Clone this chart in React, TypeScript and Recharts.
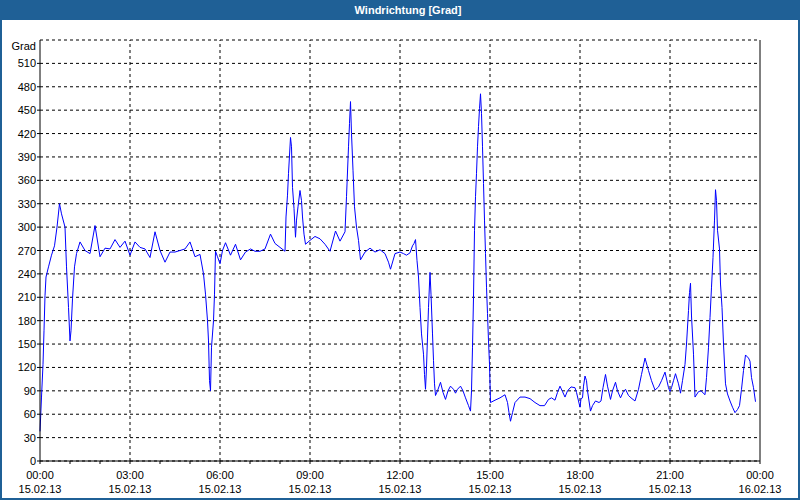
import React from 'react';
import { LineChart, Line, XAxis, YAxis, CartesianGrid, ReferenceLine } from 'recharts';

// minutes since 15.02.13 00:00
const minutes = [
  0, 3, 6, 8, 10, 12, 17, 23, 29, 34, 39, 43, 50, 53, 57, 60, 62, 65, 69, 73, 80, 90, 100, 110, 120, 130, 140, 150,
  160, 170, 180, 190, 200, 210, 220, 230, 240, 250, 260, 270, 280, 290, 300, 310, 320, 327, 331, 335, 337, 339, 341,
  343, 347, 349, 351, 355, 360, 365, 371, 381, 391, 401, 411, 421, 430, 440, 450, 461, 470, 480, 490, 492, 495, 497,
  501, 503, 505, 508, 511, 513, 516, 520, 523, 525, 528, 531, 540, 550, 560, 570, 580, 591, 600, 610, 613, 617, 619,
  621, 623, 626, 629, 633, 637, 641, 650, 660, 670, 680, 690, 697, 701, 710, 720, 727, 733, 740, 745, 748, 751, 754,
  757, 760, 763, 767, 769, 771, 773, 775, 777, 780, 782, 785, 787, 789, 791, 795, 801, 806, 811, 816, 821, 827, 831,
  835, 841, 846, 851, 857, 861, 863, 865, 867, 869, 871, 873, 875, 877, 879, 881, 883, 885, 887, 889, 891, 893, 895,
  897, 899, 901, 910, 920, 930, 935, 938, 941, 945, 950, 960, 970, 980, 990, 1000, 1009, 1017, 1023, 1030, 1035, 1040,
  1045, 1050, 1055, 1062, 1070, 1073, 1077, 1080, 1082, 1085, 1087, 1090, 1093, 1095, 1098, 1101, 1105, 1111, 1118,
  1122, 1126, 1131, 1135, 1141, 1145, 1151, 1155, 1161, 1166, 1171, 1177, 1182, 1190, 1197, 1203, 1210, 1217, 1223,
  1230, 1237, 1243, 1250, 1257, 1260, 1263, 1267, 1271, 1277, 1281, 1285, 1290, 1293, 1297, 1299, 1301, 1303, 1307,
  1310, 1317, 1322, 1330, 1333, 1337, 1340, 1343, 1346, 1349, 1351, 1353, 1355, 1359, 1361, 1364, 1367, 1371, 1375,
  1380, 1385, 1390, 1395, 1399, 1403, 1407, 1411, 1417, 1420, 1423, 1427, 1431,
];

// wind direction in degrees
const degrees = [
  38, 82, 124, 167, 212, 236, 249, 264, 276, 300, 330, 317, 300, 249, 197, 154, 167, 208, 249, 266, 281, 270, 266, 302,
  262, 273, 272, 284, 274, 282, 264, 281, 274, 272, 261, 294, 270, 255, 268, 268, 270, 272, 281, 262, 265, 240, 214,
  180, 154, 103, 90, 146, 180, 214, 269, 262, 253, 270, 280, 264, 278, 258, 268, 272, 269, 269, 272, 291, 279, 274,
  269, 313, 341, 369, 415, 403, 351, 324, 287, 309, 326, 347, 334, 313, 291, 278, 283, 288, 285, 278, 269, 295, 282,
  294, 339, 403, 433, 461, 420, 373, 326, 300, 283, 258, 268, 273, 268, 271, 266, 255, 246, 266, 268, 266, 264, 267,
  276, 279, 284, 257, 236, 197, 163, 137, 111, 92, 120, 159, 197, 242, 214, 163, 129, 99, 84, 90, 101, 88, 79, 90, 96,
  92, 87, 92, 96, 90, 81, 71, 64, 90, 146, 210, 296, 339, 369, 403, 429, 452, 471, 446, 403, 356, 309, 266, 223, 189,
  154, 124, 75, 78, 81, 85, 75, 62, 51, 62, 75, 82, 82, 80, 75, 71, 71, 79, 81, 78, 88, 96, 89, 82, 90, 95, 94, 88,
  77, 69, 80, 81, 96, 109, 103, 90, 77, 64, 71, 77, 75, 77, 94, 111, 96, 79, 90, 101, 90, 81, 88, 92, 84, 81, 77, 92,
  111, 132, 116, 103, 91, 95, 103, 114, 94, 89, 94, 103, 112, 99, 87, 103, 124, 150, 193, 216, 228, 186, 137, 82, 89,
  90, 85, 107, 146, 184, 223, 261, 309, 348, 334, 296, 272, 227, 197, 150, 99, 86, 77, 69, 62, 66, 71, 92, 116, 136,
  132, 128, 107, 94, 76,
];

const gradTicks = [0, 30, 60, 90, 120, 150, 180, 210, 240, 270, 300, 330, 360, 390, 420, 450, 480, 510, 540];
const compassTicks = [0, 45, 90, 135, 180, 225, 270, 315, 360, 405, 450, 495, 540];
const compassLabels = ['N', 'NE', 'E', 'SE', 'S', 'SW', 'W', 'NW', 'N', 'NE', 'E', 'SE', 'S'];
const hourTicks = [
  0, 60, 120, 180, 240, 300, 360, 420, 480, 540, 600, 660, 720, 780, 840, 900, 960, 1020, 1080, 1140, 1200, 1260,
  1320, 1380, 1440,
];
const majorTicks = [0, 180, 360, 540, 720, 900, 1080, 1260, 1440];
const timeLabels = ['00:00', '03:00', '06:00', '09:00', '12:00', '15:00', '18:00', '21:00', '00:00'];
const dateLabels = ['15.02.13', '15.02.13', '15.02.13', '15.02.13', '15.02.13', '15.02.13', '15.02.13', '15.02.13', '16.02.13'];

const data = minutes.map((m, i) => ({ t: m, deg: degrees[i] }));

const font = '"Liberation Sans", Arial, sans-serif';
const frameBlue = '#1f6096';

const TimeTick = (props: any) => {
  const { x, y, payload } = props;
  const idx = majorTicks.indexOf(payload.value);
  if (idx < 0) return null;
  return (
    <g>
      <text x={x} y={y + 13} textAnchor="middle" fontSize={11} fontFamily={font} fill="#000">
        {timeLabels[idx]}
      </text>
      <text x={x} y={y + 27} textAnchor="middle" fontSize={11} fontFamily={font} fill="#000">
        {dateLabels[idx]}
      </text>
    </g>
  );
};

const GradTick = (props: any) => {
  const { x, y, payload } = props;
  if (payload.value === 540) {
    return (
      <text x={x} y={y + 10} textAnchor="end" fontSize={11} fontFamily={font} fill="#000">
        Grad
      </text>
    );
  }
  return (
    <g>
      <line x1={x + 1} x2={x + 4} y1={y} y2={y} stroke="#000" />
      <text x={x} y={y + 4} textAnchor="end" fontSize={11} fontFamily={font} fill="#000">
        {payload.value}
      </text>
    </g>
  );
};

export default function App() {
  return (
    <div
      style={{
        position: 'absolute',
        left: 0,
        top: 0,
        width: 800,
        height: 500,
        background: frameBlue,
      }}
    >
      <div
        style={{
          position: 'absolute',
          left: 0,
          top: 0,
          width: 800,
          height: 20,
          color: '#fff',
          fontFamily: font,
          fontWeight: 'bold',
          fontSize: 11,
          lineHeight: '20px',
          textAlign: 'center',
          paddingLeft: 16,
          boxSizing: 'border-box',
        }}
      >
        Windrichtung [Grad]
      </div>
      <div style={{ position: 'absolute', left: 2, top: 20, width: 796, height: 478, background: '#fff' }} />
      <div style={{ position: 'absolute', left: 0, top: 0 }}>
        <LineChart width={800} height={500} data={data} margin={{ top: 40, right: 0, bottom: 0, left: 0 }}>
          <CartesianGrid
            xAxisId="bottom"
            yAxisId="left"
            vertical={false}
            stroke="#000"
            strokeDasharray="3 3"
          />
          <XAxis
            xAxisId="top"
            orientation="top"
            type="number"
            dataKey="t"
            domain={[0, 1440]}
            height={0}
            tick={false}
            tickLine={false}
            axisLine={{ stroke: '#000' }}
          />
          <XAxis
            xAxisId="bottom"
            type="number"
            dataKey="t"
            domain={[0, 1440]}
            ticks={hourTicks}
            interval={0}
            height={39}
            tickSize={3}
            tickMargin={2}
            tickLine={{ stroke: '#000' }}
            axisLine={{ stroke: '#000' }}
            tick={<TimeTick />}
          />
          <YAxis
            yAxisId="left"
            type="number"
            domain={[0, 540]}
            ticks={gradTicks}
            interval={0}
            width={40}
            tickSize={3}
            tickMargin={1}
            tickLine={false}
            axisLine={{ stroke: '#000' }}
            tick={<GradTick />}
          />
          <YAxis
            yAxisId="right"
            orientation="right"
            type="number"
            domain={[0, 540]}
            ticks={compassTicks}
            interval={0}
            width={40}
            tickSize={3}
            tickMargin={1}
            tickLine={{ stroke: '#000' }}
            axisLine={{ stroke: '#000' }}
            tick={{ fontSize: 11, fontFamily: font, fill: '#000' }}
            tickFormatter={(v: number) => compassLabels[compassTicks.indexOf(v)]}
          />
          {majorTicks.slice(1, -1).map((t) => (
            <ReferenceLine
              key={t}
              x={t}
              xAxisId="bottom"
              yAxisId="left"
              stroke="#000"
              strokeDasharray="3 3"
            />
          ))}
          <Line
            xAxisId="bottom"
            yAxisId="left"
            type="linear"
            dataKey="deg"
            stroke="#0000ff"
            strokeWidth={1}
            dot={false}
            isAnimationActive={false}
          />
        </LineChart>
      </div>
    </div>
  );
}
